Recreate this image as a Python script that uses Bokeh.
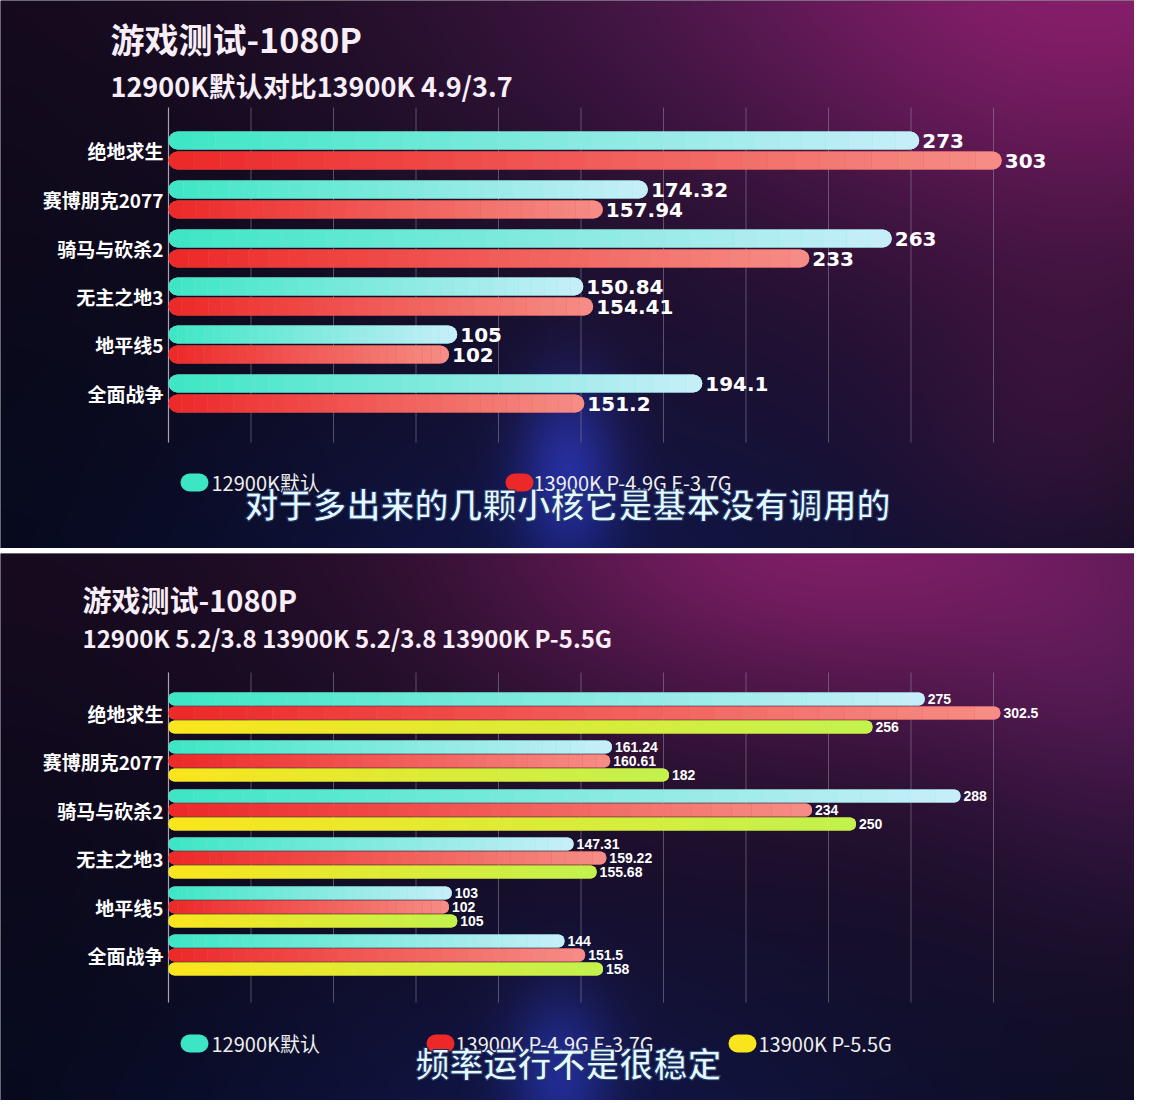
import numpy as np
from bokeh.plotting import figure
from bokeh.models import Range1d, HBar, Text
from bokeh.layouts import column
from bokeh.core.properties import value
from bokeh.embed import file_html
from bokeh.resources import INLINE

# ---------------- data ----------------
games = ["绝地求生", "赛博朋克2077", "骑马与砍杀2", "无主之地3", "地平线5", "全面战争"]
tick_values = [0, 30, 60, 90, 120, 150, 180, 210, 240, 270, 300]

top_title = "游戏测试-1080P"
top_subtitle = "12900K默认对比13900K 4.9/3.7"
top_series = ["12900K默认", "13900K  P-4.9G  E-3.7G"]
top_12900k = [273, 174.32, 263, 150.84, 105, 194.1]
top_13900k = [303, 157.94, 233, 154.41, 102, 151.2]
top_caption = "对于多出来的几颗小核它是基本没有调用的"

bot_title = "游戏测试-1080P"
bot_subtitle = "12900K 5.2/3.8  13900K 5.2/3.8  13900K  P-5.5G"
bot_series = ["12900K默认", "13900K P-4.9G E-3.7G", "13900K  P-5.5G"]
bot_12900k = [275, 161.24, 288, 147.31, 103, 144]
bot_13900k_49 = [302.5, 160.61, 234, 159.22, 102, 151.5]
bot_13900k_55 = [256, 182, 250, 155.68, 105, 158]
bot_caption = "频率运行不是很稳定"

# ---------------- style ----------------
W = 1134
X0PX = 168.0
KPX = 2.75
CYAN = ((60, 230, 196), (200, 238, 250))
RED = ((236, 40, 40), (245, 142, 134))
YELLOW = ((250, 228, 28), (194, 242, 78))
CJK = "Noto Sans CJK SC"
HAS_RADIUS = "border_radius" in HBar.properties()
HAS_OUTLINE = "text_outline_color" in Text.properties()


def hexc(c):
    return "#%02x%02x%02x" % tuple(int(round(v)) for v in c)


def background(H, base_top, base_bot, glows):
    w, h = W // 2, H // 2
    xs = (np.arange(w) + 0.5) * W / w
    ys = (np.arange(h) + 0.5) * H / h
    X, Y = np.meshgrid(xs, ys)
    t = (Y / H)[..., None]
    img = np.array(base_top, float) * (1 - t) + np.array(base_bot, float) * t
    for cx, cy, sx, sy, col, a in glows:
        g = a * np.exp(-(((X - cx) / sx) ** 2 + ((Y - cy) / sy) ** 2) / 2)
        img = img + g[..., None] * np.array(col, float)
    img = np.clip(img, 0, 255).astype(np.uint8)
    rgba = np.empty((h, w, 4), np.uint8)
    rgba[..., :3] = img
    rgba[..., 3] = 255
    return np.ascontiguousarray(rgba[::-1]).view(np.uint32).reshape(h, w)


def make_fig(H, bg):
    p = figure(width=W, height=H, output_backend="svg", toolbar_location=None,
               x_range=Range1d(-X0PX / KPX, (W - X0PX) / KPX), y_range=Range1d(0, H),
               x_axis_location=None, y_axis_location=None, min_border=0,
               background_fill_color="#160e20", border_fill_color="#160e20",
               outline_line_color=None)
    p.grid.visible = False
    p.extra_x_ranges = {"px": Range1d(0, W)}
    p.image_rgba(image=[bg], x=0, y=0, dw=W, dh=H, x_range_name="px")
    return p


def ptext(p, H, x, y, s, size, color="#ffffff", align="left", bold=True, font=CJK, outline=None):
    kw = {}
    if outline and HAS_OUTLINE:
        kw["text_outline_color"] = outline
    p.text(x=[x], y=[H - y], text=[s], x_range_name="px", text_font=value(font),
           text_font_size=f"{size}px", text_font_style="bold" if bold else "normal",
           text_color=color, text_align=align, text_baseline="middle", **kw)


def grid(p, H, y0, y1):
    p.segment(x0=tick_values, x1=tick_values, y0=[H - y0] * len(tick_values),
              y1=[H - y1] * len(tick_values), line_color="#9a92a6", line_alpha=0.5, line_width=1)
    p.segment(x0=[tick_values[0]], x1=[tick_values[0]], y0=[H - y0], y1=[H - y1],
              line_color="#c0b8c8", line_alpha=0.8, line_width=1.2)


def bars(p, H, vals, cols, centers, off, bar_h, font, size, K=32):
    vals = np.asarray(vals, float)
    ys = [H - (c + off) for c in centers]
    r = int(bar_h // 2)
    c0, c1 = np.array(cols[0], float), np.array(cols[1], float)
    # base bar (full length, rounded) underneath the gradient pieces
    kw_all = {"border_radius": r} if HAS_RADIUS else {}
    p.hbar(y=ys, left=0, right=vals, height=bar_h, fill_color=hexc((c0 + c1) / 2),
           line_color=None, **kw_all)
    segs = {"first": ([], [], [], []), "mid": ([], [], [], []), "last": ([], [], [], [])}
    for v, y in zip(vals, ys):
        for j in range(K):
            key = "first" if j == 0 else ("last" if j == K - 1 else "mid")
            col = hexc(c0 + (c1 - c0) * (j + 0.5) / K)
            L = segs[key]
            L[0].append(v * j / K); L[1].append(v * (j + 1) / K); L[2].append(y); L[3].append(col)
    radii = {"first": (r, 0, 0, r), "mid": 0, "last": (0, r, r, 0)}
    for key in ("first", "mid", "last"):
        L = segs[key]
        kw = {"border_radius": radii[key]} if HAS_RADIUS else {}
        p.hbar(y=L[2], left=L[0], right=L[1], height=bar_h, fill_color=L[3], line_color=None, **kw)
    p.text(x=vals, y=ys, text=[f"{v:g}" for v in vals], x_offset=3, text_baseline="middle",
           text_align="left", text_color="#ffffff", text_font=value(font),
           text_font_size=f"{size}px", text_font_style="bold")


def pill(p, H, cx, cy, color, w=28, h=18):
    kw = {"border_radius": h // 2} if HAS_RADIUS else {}
    p.hbar(y=[H - cy], left=[cx - w / 2], right=[cx + w / 2], height=h, fill_color=color,
           line_color=None, x_range_name="px", **kw)


# ---------------- top panel ----------------
H1 = 548
bg1 = background(H1, (28, 14, 36), (13, 13, 34), [
    (1120, -40, 260, 220, (125, 18, 80), 0.8),
    (700, -40, 260, 180, (45, 10, 40), 0.6),
    (0, 250, 250, 400, (-10, -5, -10), 0.8),
    (567, 470, 36, 66, (40, 60, 210), 0.45),
    (567, 590, 260, 160, (8, 14, 60), 0.6),
    (1060, 430, 110, 110, (60, 8, 28), 0.4),
])
p1 = make_fig(H1, bg1)
grid(p1, H1, 107, 442)
centers1 = [float(round(150.5 + 48.5 * i)) for i in range(len(games))]
bars(p1, H1, top_12900k, CYAN, centers1, -10, 18, "DejaVu Sans", 20)
bars(p1, H1, top_13900k, RED, centers1, 10, 18, "DejaVu Sans", 20)
for g, c in zip(games, centers1):
    ptext(p1, H1, 163, c, g, 19, align="right")
ptext(p1, H1, 110, 38, top_title, 34, color="#f8eef8")
ptext(p1, H1, 110, 85, top_subtitle, 27, color="#f8eef8")
pill(p1, H1, 194, 482, hexc(CYAN[0]))
ptext(p1, H1, 211, 482, top_series[0], 20, color="#eeeeee", bold=False)
pill(p1, H1, 519, 482, hexc(RED[0]))
ptext(p1, H1, 533, 482, top_series[1], 20, color="#eeeeee", bold=False)
ptext(p1, H1, 567, 503, top_caption, 34, color="#e2faff", align="center", outline="#1a2f66")

# ---------------- bottom panel ----------------
H2 = 547
bg2 = background(H2, (30, 14, 38), (13, 13, 34), [
    (820, -30, 250, 150, (120, 20, 80), 0.8),
    (1150, 130, 140, 160, (70, 16, 60), 0.5),
    (0, 250, 250, 400, (-10, -5, -10), 0.8),
    (560, 520, 36, 60, (40, 60, 200), 0.4),
    (560, 610, 260, 160, (8, 14, 60), 0.6),
])
p2 = make_fig(H2, bg2)
grid(p2, H2, 119, 449)
centers2 = [float(int(159 + 48.5 * i)) + 0.5 for i in range(len(games))]
NARROW = "Liberation Sans Narrow, Liberation Sans"
bars(p2, H2, bot_12900k, CYAN, centers2, -14, 13, NARROW, 14)
bars(p2, H2, bot_13900k_49, RED, centers2, 0, 13, NARROW, 14)
bars(p2, H2, bot_13900k_55, YELLOW, centers2, 14, 13, NARROW, 14)
for g, c in zip(games, centers2):
    ptext(p2, H2, 163, c, g, 19, align="right")
ptext(p2, H2, 82, 45, bot_title, 29, color="#f8eef8")
ptext(p2, H2, 82, 84, bot_subtitle, 24, color="#f8eef8")
pill(p2, H2, 194, 490, hexc(CYAN[0]))
ptext(p2, H2, 211, 490, bot_series[0], 20, color="#eeeeee", bold=False)
pill(p2, H2, 440, 490, hexc(RED[0]))
ptext(p2, H2, 455, 490, bot_series[1], 20, color="#eeeeee", bold=False)
pill(p2, H2, 742, 490, hexc(YELLOW[0]))
ptext(p2, H2, 758, 490, bot_series[2], 20, color="#eeeeee", bold=False)
ptext(p2, H2, 568, 509, bot_caption, 34, color="#e2faff", align="center", outline="#1a2f66")

layout = column(p1, p2, spacing=5)
open("out.html", "w").write(file_html(layout, INLINE))
